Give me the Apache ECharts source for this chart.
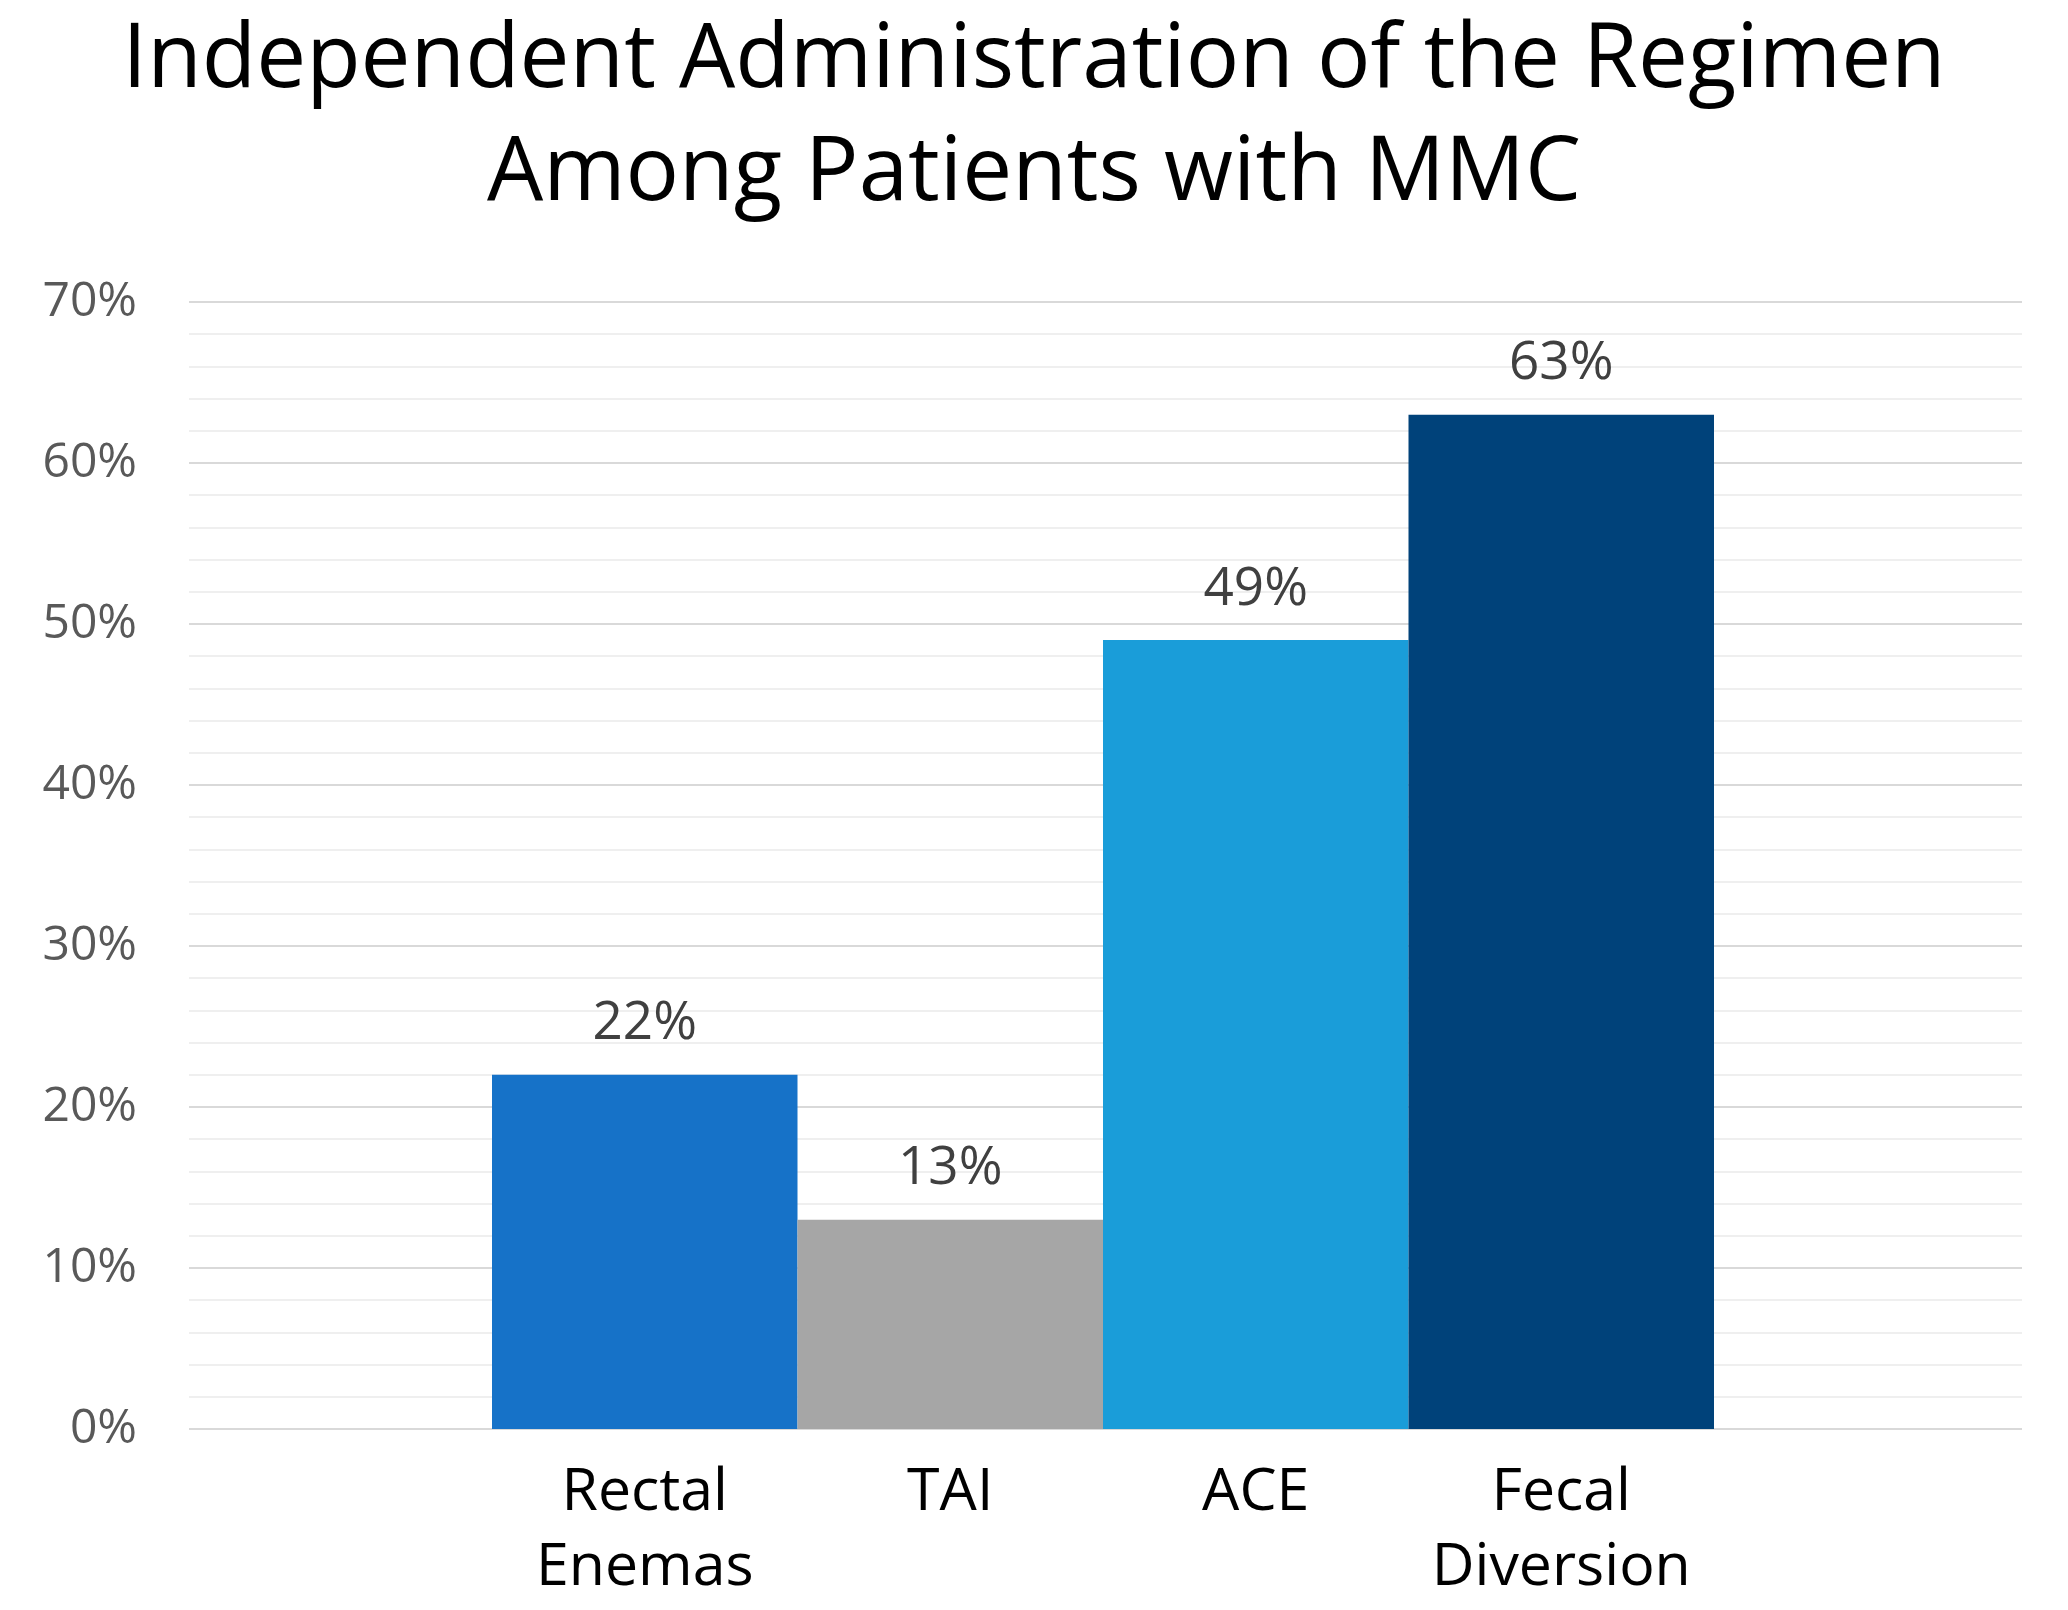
<!DOCTYPE html>
<html>
<head>
<meta charset="utf-8">
<script src="https://cdn.jsdelivr.net/npm/echarts@6/dist/echarts.min.js"></script>
<style>html,body{margin:0;padding:0;background:#fff}#c{width:2068px;height:1610px}</style>
</head>
<body>
<div id="c"></div>
<script>
const titleText = 'Independent Administration of the Regimen\nAmong Patients with MMC';
const categories = ['Rectal\nEnemas', 'TAI', 'ACE', 'Fecal\nDiversion'];
const values = [0.22, 0.13, 0.49, 0.63];
const barColors = ['#1672C8', '#A6A6A6', '#1A9DD9', '#00427A'];
const yMin = 0, yMax = 0.7, yStep = 0.1;

const chart = echarts.init(document.getElementById('c'));
const pct = v => Math.round(v * 100) + '%';
chart.setOption({
  backgroundColor: '#ffffff',
  animation: false,
  title: {
    text: titleText,
    left: 'center',
    top: 0,
    textStyle: { fontFamily: 'Open Sans', fontSize: 89, fontWeight: 'normal', color: '#000', lineHeight: 113 }
  },
  grid: [
    { left: 189, right: 46, top: 302, bottom: 181 },
    { left: 492, right: 354, top: 302, bottom: 181 }
  ],
  xAxis: [
    { gridIndex: 0, type: 'category', data: [''], show: false },
    {
      gridIndex: 1, type: 'category', data: categories,
      axisLine: { show: false }, axisTick: { show: false },
      axisLabel: { fontFamily: 'Open Sans', fontSize: 59, color: '#000', lineHeight: 75, margin: 27, interval: 0 }
    }
  ],
  yAxis: [
    {
      gridIndex: 0, type: 'value', min: yMin, max: yMax, interval: yStep,
      axisLine: { show: false }, axisTick: { show: false },
      axisLabel: { formatter: pct, fontFamily: 'Open Sans', fontSize: 48, color: '#595959', margin: 52 },
      splitLine: { show: true, lineStyle: { color: '#d9d9d9', width: 2 } },
      minorTick: { show: false, splitNumber: 5 },
      minorSplitLine: { show: true, lineStyle: { color: '#efefef', width: 2 } }
    },
    { gridIndex: 1, type: 'value', min: yMin, max: yMax, interval: yStep, show: false, splitLine: { show: false } }
  ],
  series: [{
    type: 'bar',
    xAxisIndex: 1, yAxisIndex: 1,
    barWidth: '100%',
    data: values.map((v, i) => ({ value: v, itemStyle: { color: barColors[i] } })),
    label: {
      show: true, position: 'top', distance: 24,
      formatter: p => pct(p.value),
      fontFamily: 'Open Sans', fontSize: 53, color: '#404040'
    }
  }]
});
</script>
</body>
</html>
